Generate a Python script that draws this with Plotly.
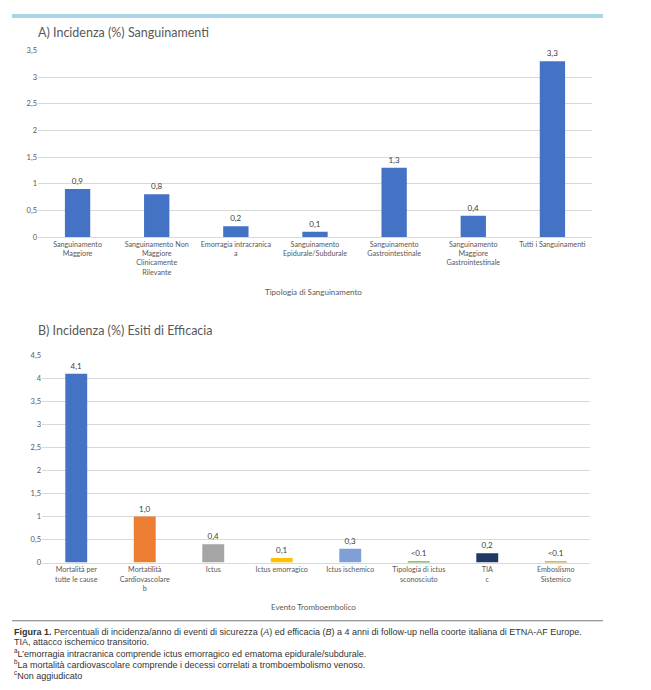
import plotly.graph_objects as go

# ---- Data ----
cat_a = ["Sanguinamento<br>Maggiore", "Sanguinamento Non<br>Maggiore<br>Clinicamente<br>Rilevante",
         "Emorragia intracranica<br>a", "Sanguinamento<br>Epidurale/Subdurale",
         "Sanguinamento<br>Gastrointestinale", "Sanguinamento<br>Maggiore<br>Gastrointestinale",
         "Tutti i Sanguinamenti"]
val_a = [0.9, 0.8, 0.2, 0.1, 1.3, 0.4, 3.3]
lab_a = ["0,9", "0,8", "0,2", "0,1", "1,3", "0,4", "3,3"]

cat_b = ["Mortalità per<br>tutte le cause", "Mortatilità<br>Cardiovascolare<br>b", "Ictus",
         "Ictus emorragico", "Ictus ischemico", "Tipologia di ictus<br>sconosciuto",
         "TIA<br>c", "Emboslismo<br>Sistemico"]
val_b = [4.1, 1.0, 0.4, 0.1, 0.3, 0.03, 0.2, 0.03]
lab_b = ["4,1", "1,0", "0,4", "0,1", "0,3", "<0.1", "0,2", "<0.1"]
col_b = ["#4472C4", "#ED7D31", "#A5A5A5", "#FFC000", "#7FA0D6", "#70AD47", "#203864", "#C9A032"]

OFF = 8  # browser default body margin
W, H = 651 - 2 * OFF, 690 - 2 * OFF
FONT = "Lato"
TXT = "#595959"

def px_x(p):
    return (p - OFF) / W

def px_y(p):
    return 1 - (p - OFF) / H

fig = go.Figure()
fig.add_trace(go.Bar(x=cat_a, y=val_a, text=lab_a, textposition="outside",
                     marker=dict(color="#4472C4", line=dict(width=0)), width=0.32,
                     textfont=dict(size=8, color="#404040", family=FONT),
                     cliponaxis=False, xaxis="x", yaxis="y", showlegend=False))
fig.add_trace(go.Bar(x=cat_b, y=val_b, text=lab_b, textposition="outside",
                     marker=dict(color=col_b, line=dict(width=0)), width=0.32,
                     textfont=dict(size=8, color="#404040", family=FONT),
                     cliponaxis=False, xaxis="x2", yaxis="y2", showlegend=False))

xcommon = dict(showgrid=False, showline=True, linecolor="#D9D9D9", linewidth=1,
               ticks="", tickfont=dict(size=7.2, color=TXT, family=FONT), tickangle=0,
               fixedrange=True)
ycommon = dict(showgrid=True, gridcolor="#D9D9D9", gridwidth=1, zeroline=False,
               showline=False, ticks="", dtick=0.5,
               tickfont=dict(size=7.5, color=TXT, family=FONT), fixedrange=True)

fig.update_layout(
    width=W, height=H,
    margin=dict(l=0, r=0, t=0, b=0),
    paper_bgcolor="white", plot_bgcolor="white",
    separators=",.",
    bargap=0.68,
    font=dict(family=FONT, color=TXT),
    xaxis=dict(domain=[px_x(38), px_x(592)], anchor="y", **xcommon),
    yaxis=dict(domain=[px_y(236), px_y(47)], range=[0, 3.5], anchor="x", **ycommon),
    xaxis2=dict(domain=[px_x(42), px_x(590)], anchor="y2", **xcommon),
    yaxis2=dict(domain=[px_y(566), px_y(356)], range=[0, 4.5], anchor="x2", **ycommon),
)

# decorative lines
fig.add_shape(type="line", xref="paper", yref="paper", x0=px_x(12), x1=px_x(603),
              y0=px_y(12), y1=px_y(12), line=dict(color="#A9D5E6", width=4))
fig.add_shape(type="line", xref="paper", yref="paper", x0=px_x(12), x1=px_x(603),
              y0=px_y(625), y1=px_y(625), line=dict(color="#555555", width=0.8))

for text, yy in [("A) Incidenza (%) Sanguinamenti", 29), ("B) Incidenza (%) Esiti di Efficacia", 331)]:
    fig.add_annotation(text=text, xref="paper", yref="paper", x=px_x(36), y=px_y(yy),
                       xanchor="left", yanchor="middle", showarrow=False,
                       font=dict(size=12.5, color=TXT, family=FONT))

fig.add_annotation(text="Tipologia di Sanguinamento", xref="paper", yref="paper",
                   x=px_x(313), y=px_y(292), xanchor="center", yanchor="middle",
                   showarrow=False, font=dict(size=8, color=TXT, family=FONT))
fig.add_annotation(text="Evento Tromboembolico", xref="paper", yref="paper",
                   x=px_x(313), y=px_y(611), xanchor="center", yanchor="middle",
                   showarrow=False, font=dict(size=8, color=TXT, family=FONT))

caption = [
    "<b>Figura 1.</b> Percentuali di incidenza/anno di eventi di sicurezza (<i>A</i>) ed efficacia (<i>B</i>) a 4 anni di follow-up nella coorte italiana di ETNA-AF Europe.",
    "TIA, attacco ischemico transitorio.",
    "<sup>a</sup>L’emorragia intracranica comprende ictus emorragico ed ematoma epidurale/subdurale.",
    "<sup>b</sup>La mortalità cardiovascolare comprende i decessi correlati a tromboembolismo venoso.",
    "<sup>c</sup>Non aggiudicato",
]
ys = [636, 647, 658, 669, 680]
for t, yy in zip(caption, ys):
    fig.add_annotation(text=t, xref="paper", yref="paper", x=px_x(12), y=px_y(yy),
                       xanchor="left", yanchor="middle", showarrow=False,
                       font=dict(size=9, color="#333333", family="Liberation Sans Narrow, Liberation Sans"))

fig.write_html("out.html")
